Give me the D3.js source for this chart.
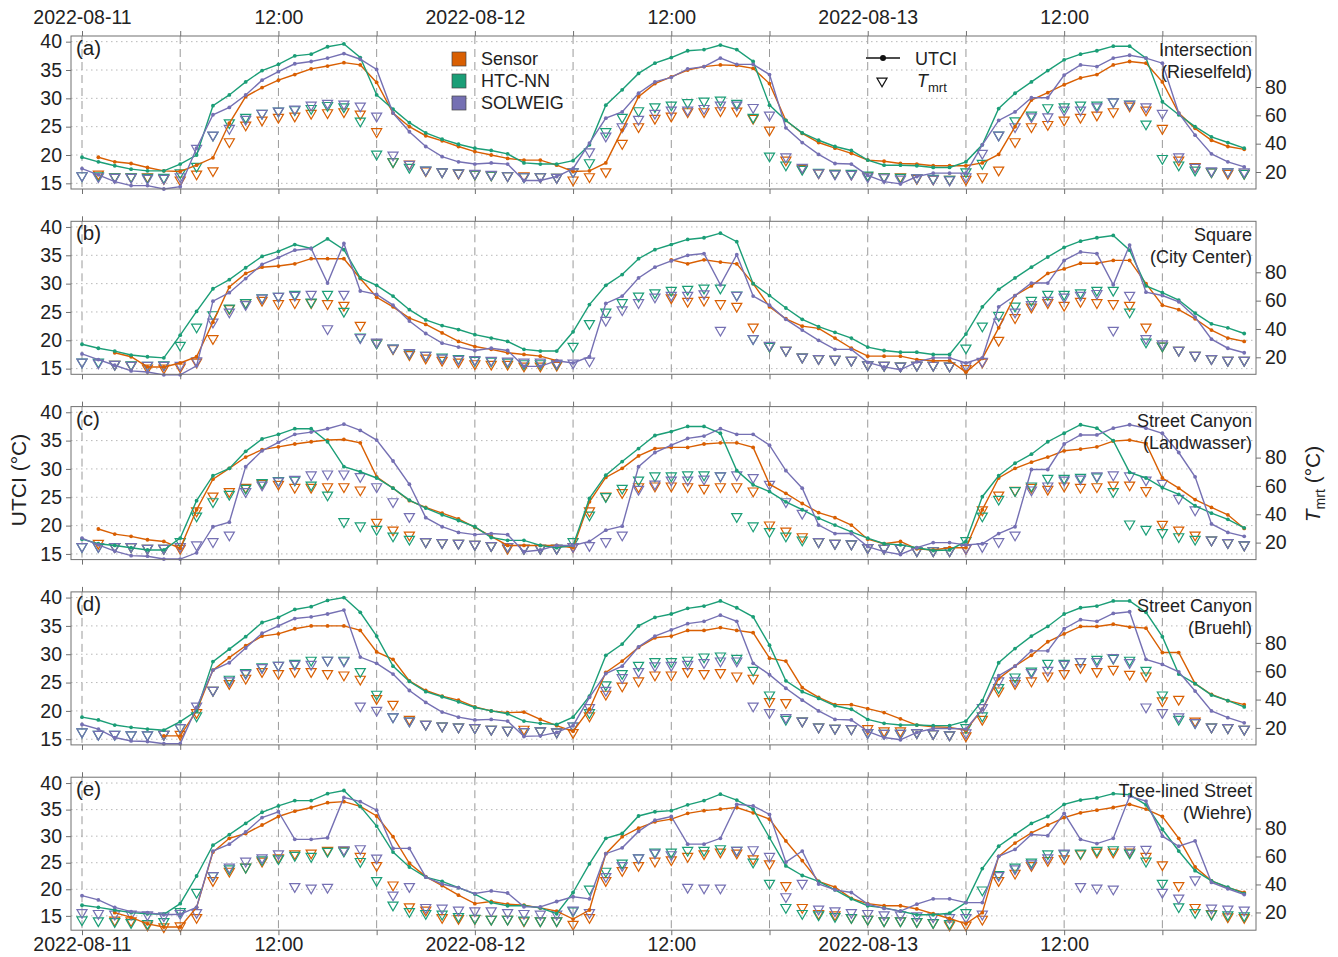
<!DOCTYPE html>
<html>
<head>
<meta charset="utf-8">
<script src="https://cdn.jsdelivr.net/npm/d3@7"></script>
<style>
  body { margin: 0; background: #fff; }
  svg { display: block; font-family: "Liberation Sans", Arial, sans-serif; }
</style>
</head>
<body>
<div id="chart"></div>
<script>
// hourly values, index = hours since 2022-08-11 00:00 (72 steps)

// (a) Intersection (Rieselfeld)
const utciSensorA = [
  null,19.6,18.8,18.5,17.8,17.2,17.1,18.2,19.5,25.6,30.3,31.9,
  33.2,34.2,35.2,35.7,36.3,35.9,32.8,27.4,25,23.4,22.5,21.5,
  20.6,20,19.4,19.1,19.1,18.2,17.1,17.2,18.6,24.4,30.3,32.6,
  33.8,35,35.6,35.9,35.8,35.3,32.6,26.1,23.8,22.2,21.2,20.3,
  19.1,18.9,18.5,18.4,18.1,18.1,18.1,18.6,20.1,25,29.7,31,
  32.4,33.6,34.2,35.9,36.5,36.2,32.9,27.4,24.7,22.6,21.5,21];
const utciHtcA = [
  19.6,18.8,18.1,17.5,17.2,17.2,18.4,20,28.7,30.6,32.9,34.9,
  36,37.5,37.8,39.1,39.6,37.2,30.6,28.1,25.7,23.9,22.8,21.9,
  21.2,20.8,20.2,18.6,18.4,18.4,19,21.8,28.8,31.5,34.4,36.2,
  37.2,38.4,38.6,39.4,38.6,36.5,28.8,26.1,23.9,22.6,21.5,20.8,
  19.1,18.2,18.2,18.1,17.8,17.8,18.8,21.8,28.2,30.9,32.9,34.9,
  36.8,37.8,38.4,39.2,39.2,37.1,29.4,27.1,25,23.2,22.2,21.2];
const utciSolA = [
  17.6,16.5,15.3,14.6,14.6,14,14.4,21.2,27.1,28.4,30.6,33.2,
  34.7,36.1,36.5,37.1,37.9,36.9,35.1,27.4,24.1,21.5,19.7,18.8,
  18.4,18.6,18.4,15.5,15.5,16.2,17.6,22.1,26.5,27.6,30.9,32.9,
  33.7,35.2,35.6,37.1,36,36,34.2,24.8,22.2,20.1,18.5,18.4,
  16.4,15.3,14.9,16.2,16.8,16.8,16.8,21.8,26.1,27.6,30.1,30.1,
  34.1,35.9,35.6,37.1,37.6,37.1,36.2,27.4,23.5,20.2,18.8,17.9];
const tmrtSensorA = [
  null,18.6,16.7,16.7,16.7,15.5,14.4,18.6,20.9,41.4,53.2,56.7,
  58.6,59.5,61.4,61.9,62.6,60.9,48.5,27.3,25.6,20.9,20.2,19.1,
  18.6,17.9,17.4,17.4,16.7,16.2,14.4,16.7,20.2,40.2,52,57.9,
  59.5,62.6,62.6,63.3,63.1,57.9,49.6,28.5,22.6,19.5,19.1,18.6,
  17.4,16.7,16.7,15.5,15.1,14.8,14.8,16.7,21.4,41.4,52,53.6,
  56.7,58.6,60.2,62.6,66.6,63.8,50.8,28.5,23.8,20.2,19.1,19.1];
const tmrtHtcA = [
  17.4,17.4,16.7,16.7,16.2,16.2,19.5,24,46,54.8,58.6,61.4,
  63,64,64.9,67,66,56,32.7,27.3,23.3,21.4,20.2,19.5,
  18.6,17.9,17.4,16.7,16.7,16.2,20.2,26.6,48.5,58.6,63.3,66.1,
  67.3,69,70.1,70.8,68.5,58.6,31.3,25,21.9,19.8,19.1,19.1,
  17.9,16.7,16.2,16,15.5,14.8,20.2,26.1,46.1,56.2,60.2,65.4,
  66.1,67.3,67.3,69.6,68,53.9,29.6,25,21.4,20.2,20.2,19.1];
const tmrtSolA = [
  17.4,16.7,16.2,16.2,15.5,15.5,16.7,36.7,46.1,50.8,57.2,61.4,
  63.1,64.5,67.3,68.5,68,66.6,59.5,32,25.4,21.4,20.2,19.5,
  19.1,18.4,17.4,16.7,16.7,16.2,20.2,34.3,45.4,52,57.2,61.4,
  63.8,63.8,64.9,67.3,67.3,65.6,60.2,30.8,23.3,19.5,18.6,18.4,
  16.7,16,15.1,16,15.1,14.4,16.7,33.2,46.1,52,59,59,
  63.8,63.8,66.1,69.6,67.8,66.1,61.4,30.8,23.3,20.9,20.2,20.2];

// (b) Square (City Center)
const utciSensorB = [
  null,null,17.8,17.1,15.3,15.3,16,17.1,23.2,29.4,31.8,32.9,
  33.1,33.5,34.4,34.4,34.4,30.9,27.6,25.9,23.9,22.8,21.3,19.8,
  18.9,18.4,17.8,17.5,17.2,16.4,null,null,null,null,null,null,
  34.2,33.5,34.2,33.8,33.5,30,25.9,23.8,22.5,22.1,20.4,18.6,
  17.2,17.2,17.2,16.6,16.4,16.4,14.4,16.8,22.2,27.9,29.6,31.8,
  32.6,33.6,33.6,34.1,34.1,30,26.2,25.4,23.8,21.8,20.4,19.8];
const utciHtcB = [
  19.3,18.6,18.1,17.4,17.1,16.9,20.9,25.1,29.1,30.7,32.8,34.8,
  35.7,36.9,36.2,37.9,36,31,29.7,27.8,25.4,23.6,22.6,21.9,
  21,20.4,19.8,18.4,18.1,18.1,21.5,26.3,29.7,31.6,34.4,36,
  36.9,37.8,38.1,38.9,37.4,30,27.9,25.7,23.7,22.4,21.4,20.4,
  18.8,18.2,17.9,17.9,17.5,17.5,21.1,25.9,29,31,32.9,34.7,
  36.4,37.5,38.1,38.5,35.9,29.6,28.4,27.1,24.8,22.9,22.2,21.2];
const utciSolB = [
  17.6,16.6,15.6,14.6,14.4,13.9,13.9,15.5,26.9,28.4,30.9,33.4,
  34.6,35.9,36.2,30.1,37.1,28.7,28.1,26.2,23.4,21.2,19.5,18.8,
  18.2,18.6,18.2,15.4,15.4,16.4,16,17.1,26.5,27.8,31,32.9,
  34,35,35.3,29.8,35.1,27.8,26.2,23.7,21.8,20,18.4,18.4,
  16.1,15.3,14.8,16.2,16.9,16.9,16,16.9,25.9,27.9,30.1,30.1,
  34.1,35.6,35.3,29.8,36.8,28.5,27.9,26.8,24.1,20.2,18.6,17.8];
const tmrtSensorB = [
  null,null,15.1,14.4,12.5,12.5,13.2,16.7,33.2,54.4,58.6,60.2,
  57.9,58.6,58.6,57.9,56.7,42.6,30.3,26.1,21.9,19.5,17.9,16.7,
  15.5,15.1,15.1,13.9,13.9,14.4,null,null,null,null,null,null,
  62,59.5,60.2,57.9,56,41.4,28,25,20.2,19.1,18.6,17.9,
  14.8,14.4,13.9,14.4,14.4,13.9,12,16.7,32,48,55.5,58.6,
  56.7,59.5,58.6,57.9,56.7,41.4,28,25,21.4,19.1,17.9,17.9];
const tmrtHtcB = [
  16.7,16.7,15.1,14.8,14.4,14.8,28.5,41.4,50.1,54.8,58.6,62.1,
  63.1,64.5,59,64.5,52.5,34.3,30.1,26.6,23,21.4,20.2,19.1,
  17.9,17.4,16.7,15.5,15.5,15.5,27.8,43.8,52,58.6,63.3,65.6,
  67.3,68,68.9,68.9,64,33.2,27.8,25,20.2,19.1,18.6,17.9,
  14.8,14.4,13.9,14.4,14.4,13.9,26.6,42.1,49.6,56.2,60.2,64.5,
  64.5,65.6,67.3,67.3,52,30.8,28,25,21.4,19.1,17.9,17.9];
const tmrtSolB = [
  16.7,16,15.1,14.4,14.4,14.4,14.4,17.5,44.9,52,57.2,61.9,
  63.1,63.8,64.5,40.2,64.5,33.9,30.8,26.6,23.3,21.4,19.5,18.6,
  18.4,17.9,17.4,16.7,16.7,16,16,17.4,46.1,53.6,58.6,62.6,
  63.8,63.8,64.9,39.1,63.8,33.2,28.5,25,20.2,19.1,18.6,17.9,
  14.8,14.4,13.9,14.4,14.4,13.9,14,17.2,44.9,52,57.2,60.2,
  62.6,63.8,65.1,39.1,63.8,33.2,29.6,25,21.4,19.1,17.9,17.9];

// (c) Street Canyon (Landwasser)
const utciSensorC = [
  null,19.4,18.5,18.1,17.5,17.2,16,22.8,28.2,30.1,32.1,33.4,
  33.9,34.4,34.8,35.1,35.2,34.6,28.6,26.6,24.4,23.2,22.2,21.2,
  19.7,18.1,16.5,16.5,16.5,16.5,16.1,24.2,28.5,30.1,32.3,33.6,
  33.8,33.8,34.4,34.6,34.6,33.8,27.3,25.7,23.9,22.3,21.4,20.1,
  17.6,16.8,17.2,15.9,15.7,16.1,16.1,22.8,28.4,30.1,31.2,32.1,
  33.2,33.5,33.9,34.9,35.1,34.5,28.4,26.6,24.6,23.2,21.9,19.5];
const utciHtcC = [
  17.6,16.8,16.5,16.1,15.7,15.7,17.8,24.4,28.8,30.1,33.1,35.3,
  36.1,37.1,37.1,34.8,30.4,29.5,28.4,26.6,24.5,23.1,21.9,20.9,
  19.8,17.9,17.4,17.4,16.5,16.1,16.5,24.8,28.9,31.3,33.6,35.9,
  36.6,37.5,37.5,36.3,29.7,27.2,26,24.2,22.8,21.3,20.1,18.9,
  17.8,16.8,16.6,16.1,15.6,15.7,17.2,25.1,28.8,31,32.6,34.8,
  36.3,37.8,37.2,35,29.4,28.4,26.7,25.5,23.5,22.2,21.1,19.6];
const utciSolC = [
  17.8,16.6,15.5,14.7,14.6,14.1,14.1,15.2,19.8,20.6,30.4,33.2,
  34.7,36.1,36.5,37.1,37.9,36.8,35.1,31.4,27.3,21.4,19.8,18.8,
  18.4,18.6,18.4,15.4,15.7,16.5,16.5,17.2,19.2,19.9,30.4,32.9,
  34.2,35.4,35.8,37.1,36.1,36.1,34.2,29.7,26.6,20.1,18.6,18.6,
  16.3,15.4,14.9,16.1,17,17,16.6,16.8,18.6,19.8,29.9,29.9,
  34.4,36,36,37.2,37.8,37.2,36.3,32.9,28.6,20.3,18.8,18.1];
const tmrtSensorC = [
  null,19.5,17.2,17.2,16,16,16,42.4,52.9,56,59,61.9,
  61.2,59,59,59.5,59.5,57.2,34.3,28.9,25.4,20.7,20,19.5,
  18.8,17.9,16,16,16,16,17.2,42.4,52.9,55.3,59.5,60,
  60,59.5,58.4,59.5,59.5,56.5,32.5,28.2,24.2,20.7,19.5,19.1,
  16.5,16,16,14.3,14.3,14.3,16,43.1,53.6,57,59,57.6,
  60,59,59.5,60.7,60.7,56.7,32.9,28.9,25.4,21.9,20,18.4];
const tmrtHtcC = [
  17.2,17.2,17.2,17.2,16,16,20.7,38.8,48.9,54.1,58.4,62.4,
  63.8,64.2,60.7,53.6,34.8,31.8,29.4,24.7,22.4,20.7,20,19.5,
  18.8,17.9,17.2,16,16,16,20.7,39.5,52.5,58.4,64.2,67.1,
  67.1,67.8,67.8,67.1,38.4,31.8,27.8,24.7,21.9,20.7,19.5,19.1,
  16.5,16,16,14.3,14.3,14.3,21.4,38.8,50.6,56.7,60,65.4,
  65.4,66.1,66.5,56,33.2,29.4,27.1,24.2,22.4,21.9,20,18.4];
const tmrtSolC = [
  17.2,17.2,17.2,17.2,16,16,17.2,18.4,20.7,25.4,56,60.7,
  63.5,64.7,67.8,68.5,68.5,66.6,59.5,48.9,38.4,20.7,20,19.5,
  18.8,17.9,17.2,16,16,16,17.2,17.9,20.7,25.4,57.6,61.4,
  64.2,64.2,64.9,67.1,67.8,65.9,61.2,48.9,40.7,20.7,19.5,19.1,
  16.5,16,16,14.3,14.3,14.3,16,17.2,20.7,25.4,57.2,60,
  64.2,64.9,67.1,67.8,67.1,64.2,61.9,51.3,43.1,21.9,20,18.4];

// (d) Street Canyon (Bruehl)
const utciSensorD = [
  null,null,null,null,null,15.6,15.6,20,27.2,29.4,31.5,33.2,
  33.6,34.5,35,35,35,34.2,30.4,29.1,25.3,23.6,22.6,21.9,
  20.7,20,19.7,19.8,18.5,17.4,16.4,20.3,26.8,28.8,31.2,32.9,
  33.2,34.2,34.2,34.7,34.2,33.8,29.3,28.8,24.1,22.4,21.1,21.1,
  20.4,19.7,18.6,17.5,17.2,17.1,16.6,20.3,25.7,27.9,29.8,32.2,
  33.6,34.9,34.9,35.3,34.8,34.6,30.3,30.3,24.8,22.9,21.8,21.1];
const utciHtcD = [
  18.9,18.4,17.5,17.1,16.8,16.6,18.1,20,28.7,30.9,33.1,35.6,
  36.5,37.9,38.4,39.5,40,37.4,33.2,27.9,25.2,23.4,22.5,21.6,
  20.6,20,19.5,18.2,17.8,17.6,18.9,22.6,29.8,31.8,35,36.5,
  37.1,38.1,38.5,39.4,38.2,36.6,31.6,25.3,23.4,22.2,20.9,20.3,
  18.5,17.8,17.5,17.5,17.4,17.4,18.2,21.8,28.5,31,33.2,34.9,
  37.1,38.2,38.5,39.4,39.4,37.4,33.1,26.5,24.8,22.8,21.8,20.7];
const utciSolD = [
  17.6,16.8,15.3,14.7,14.6,14.2,14.2,20.6,27.2,28.5,31.1,33.7,
  35,36.3,36.6,37.1,37.8,29.5,28.4,26.5,23.6,21.5,19.8,18.9,
  18.4,18.5,18.2,15.5,15.6,16.2,17.4,22.4,26.6,27.9,31.3,33.2,
  34.3,35.4,35.8,36.9,35.8,28.4,26.4,24,21.9,20,18.5,18.4,
  16.4,15.3,14.9,16.2,16.9,16.9,16.8,20.3,26.2,27.9,30.6,30.6,
  34.5,36.1,35.8,37.2,37.5,29.1,28.2,26.9,23.5,20,18.8,17.9];
const tmrtSensorD = [
  null,null,null,null,null,15.5,15.5,30.8,46.6,51.3,55.1,59.8,
  58.4,59.8,59.8,58.4,57.4,54.4,40.7,36.7,26.1,22.6,21.4,20.7,
  20.2,19.1,18.4,19.1,17.9,17.2,16.7,28.5,43.8,49.6,53.2,57.4,
  57.4,59.8,58.4,59.1,56.7,55.1,38.6,37.9,24.9,20.7,19.8,19.5,
  19.5,17.9,17.9,16.7,16,15.1,14.4,26.1,46.1,51.3,53.2,56.7,
  58.4,62.6,59.8,61.4,57.9,56.7,39.1,40.2,24.9,20.7,20.2,19.1];
const tmrtHtcD = [
  17.2,15.5,15.5,15.1,15.1,15.5,20.2,28.5,46.6,54.4,59.1,63.1,
  64.2,65.6,67.8,67.8,67.8,59.8,43.8,27.8,24.9,22.6,21.4,20.7,
  20.2,19.1,18.4,17.4,17.9,17.2,21.4,30.8,50.4,58.4,64.2,66.8,
  66.8,67.8,70.1,70.8,69.2,60.7,43.3,26.1,24.9,20.7,19.8,19.5,
  16.7,16.2,16.2,16.7,16,15.1,20.2,28.5,48.5,56,60.2,65.6,
  65.6,66.8,68.5,69.2,67.8,60.7,43.3,26.1,23.8,20.7,20.2,19.1];
const tmrtSolD = [
  17.2,15.5,15.5,15.1,15.1,15.5,20.2,35.5,46.6,53.2,58.4,62.6,
  64.2,64.9,64.9,67.8,67.3,35.5,32.5,27.8,24.9,22.6,21.4,20.7,
  20.2,19.1,18.4,17.4,17.9,17.2,21.4,34.4,46.6,55.5,59.8,63.8,
  64.2,64.9,66.1,67.3,67.3,35.5,30.8,27.3,24.9,20.7,19.8,19.5,
  16.7,16.2,16.2,16.7,16,15.1,16.5,34.4,53.2,53.2,59.1,60.7,
  64.9,66.8,66.8,69.6,66.1,34.8,30.8,27.8,23.8,20.7,20.2,19.1];

// (e) Tree-lined Street (Wiehre)
const utciSensorE = [
  null,null,15.6,14.7,13.5,12.9,12.9,16.6,27,29.6,30.5,32.1,
  33.7,34.7,35.4,36.3,36.5,35.6,33.8,29.9,24.9,22.4,20.7,18.9,
  17.3,17.7,17.2,17,16.5,15.9,14.4,16.1,26.7,29.9,31.5,32.7,
  33.2,34.3,34.8,35.1,35.4,34.4,33.2,29.1,25.4,21.5,20.4,18.3,
  17.3,16.9,16.9,16.3,15.4,14.5,13.5,15.6,26.2,28.7,30.6,32.1,
  33.5,34.4,34.9,35.4,36,35.1,33.7,29.6,24.2,21.6,20.3,19.4];
const utciHtcE = [
  17,16.6,16.1,15.6,15.4,15.3,17.3,22.5,28.3,30.3,32.4,34.5,
  35.7,36.7,36.7,38,38.6,35.6,31.9,27,24.2,22.3,21.5,20.3,
  19.1,17.5,16.9,16.9,16.5,15.4,19.4,24.8,29.6,30.5,33.8,34.6,
  34.8,35.9,36.7,37.9,36.8,35.1,29.7,24.4,22.6,21.5,19.9,18.2,
  16.9,16.5,15.9,15.2,15.2,15.5,17.5,23.9,28.1,30.3,32.4,33.7,
  36,36.8,37.2,38,37.8,35.9,31.3,27.2,23.5,21.6,20.4,19.2];
const utciSolE = [
  18.8,18,16.6,15.8,15.6,15.2,15.3,16.6,27.2,28.5,30.8,33.5,
  34.6,29.4,29.4,29.7,37.3,36.5,34.9,27.7,27.7,22.3,21,20.3,
  19.2,19.7,19.3,16.7,16.7,17.7,18.6,18.2,26.7,27.8,30.9,33,
  33.7,28.5,28.5,29.6,36,35.7,34.1,25.1,27.2,21,19.9,19.4,
  17.2,16.4,15.9,17.2,18.2,18.2,17.5,17.5,26.2,27.5,30.3,30.1,
  34.3,29.4,28.6,29.6,37.5,36.6,30,28.1,29.1,21.3,20.1,19];
const tmrtSensorE = [
  null,null,14.5,14,11.1,9.7,10.4,16.4,42.8,49.5,52.4,56.7,
  59.1,62,62.5,64.4,64.4,60.1,53.6,39.7,24.1,21.7,16.4,15.7,
  15.7,15.2,15.2,14,14,14,11.6,16.4,42.8,50,53.6,56.7,
  57.7,60.1,62,63.2,62.5,58.4,54.8,39.2,23.6,19.3,18.3,16.4,
  15.2,14,14,13.5,12.8,11.1,11.1,15.2,42.8,48.1,53.6,57.2,
  58.4,62,63.2,63.2,63.2,60.1,54.1,39.2,23.6,19.3,16.9,16.4];
const tmrtHtcE = [
  14.7,14,13.5,12.8,12.1,13.5,20.7,34.4,46.4,51.2,52.4,57.7,
  58.4,60.8,60.1,63.7,63.9,56.5,42.8,25.3,20.7,19.3,18.8,17.1,
  15.9,15.2,15.2,14.5,14,14,21.2,36.8,49.5,55.3,59.1,63.2,
  63.2,64.4,64.4,65.6,64.4,56,40.9,23.6,19.3,18.3,17.1,16.4,
  15.2,14,14,13.5,12.8,12.1,20,36.1,47.1,52.4,56,62,
  62,62.5,64.4,64.9,62.5,56.7,40.9,24.1,20,18.8,18.3,17.6];
const tmrtSolE = [
  20,19.3,18.8,18.8,18.3,17.6,19.3,20,46.4,52.4,56.7,59.1,
  62,38.5,37.5,38,64.9,65.6,58.9,32.5,38.5,23.6,23.1,21.7,
  21.2,21.2,20,19.3,18.8,18.8,21.7,20,45.7,53.6,59.1,62.5,
  61.3,38,37.5,37.5,64.4,64.9,60.1,31.3,40.9,22.4,21.2,20,
  19.3,18.3,18.3,17.6,16.9,16.4,16.4,18.8,46.4,51.2,54.8,59.1,
  62.5,38.5,37.5,36.8,64.9,65.1,34.4,30.3,43.3,23.1,22.4,21.7];

const panelLabels = ['(a)', '(b)', '(c)', '(d)', '(e)'];
const siteNames = [
  ['Intersection', '(Rieselfeld)'],
  ['Square', '(City Center)'],
  ['Street Canyon', '(Landwasser)'],
  ['Street Canyon', '(Bruehl)'],
  ['Tree-lined Street', '(Wiehre)']];
const seriesNames = ['Sensor', 'HTC-NN', 'SOLWEIG'];
const seriesColors = ['#D95F02', '#1B9E77', '#7570B3'];
const utciTicks = [15, 20, 25, 30, 35, 40];
const tmrtTicks = [20, 40, 60, 80];
const utciDomains = [[14, 41], [14, 41], [14, 41], [14, 41], [12.3, 41.1]];
const tmrtDomains = [[8, 116], [8, 116], [8, 116], [8, 116], [7.3, 116.7]];

const utciData = [
  [utciSensorA, utciHtcA, utciSolA],
  [utciSensorB, utciHtcB, utciSolB],
  [utciSensorC, utciHtcC, utciSolC],
  [utciSensorD, utciHtcD, utciSolD],
  [utciSensorE, utciHtcE, utciSolE]];
const tmrtData = [
  [tmrtSensorA, tmrtHtcA, tmrtSolA],
  [tmrtSensorB, tmrtHtcB, tmrtSolB],
  [tmrtSensorC, tmrtHtcC, tmrtSolC],
  [tmrtSensorD, tmrtHtcD, tmrtSolD],
  [tmrtSensorE, tmrtHtcE, tmrtSolE]];

// layout
const W = 1338, H = 957;
const left = 71, right = 1256;
const top0 = 36, step = 185.3, panelH = 153;
const fontSize = 18;      // legend, site names
const tickFont = 19.5;    // axis tick labels
const titleFont = 21;     // axis titles
const boxColor = '#707070';
const textColor = '#222';

const t0 = new Date(2022, 7, 11, 0).getTime();
const hourToDate = h => new Date(t0 + h * 3600e3);

const svg = d3.select('#chart').append('svg')
  .attr('width', W)
  .attr('height', H);

const x = d3.scaleTime()
  .domain([hourToDate(-0.672), hourToDate(71.72)])
  .range([left, right]);
const sixHours = d3.range(0, 72, 6).map(hourToDate);
const fmtDay = d3.timeFormat('%Y-%m-%d');
const timeLabel = d => d.getHours() === 0 ? fmtDay(d) : (d.getHours() === 12 ? '12:00' : '');

const tri = d3.symbol().type(d3.symbolTriangle).size(44);

function styleAxis(g, labels) {
  g.select('.domain').remove();
  g.attr('font-family', null).attr('font-size', null);
  g.selectAll('.tick line').attr('stroke', boxColor);
  g.selectAll('.tick text')
    .attr('fill', textColor)
    .attr('font-size', tickFont)
    .style('display', labels ? null : 'none');
}

utciData.forEach((series, i) => {
  const g = svg.append('g').attr('transform', `translate(0, ${top0 + i * step})`);
  const y = d3.scaleLinear().domain(utciDomains[i]).range([panelH, 0]);
  const yT = d3.scaleLinear().domain(tmrtDomains[i]).range([panelH, 0]);

  // grid
  g.append('g').selectAll('line').data(utciTicks).enter().append('line')
    .attr('x1', left).attr('x2', right)
    .attr('y1', d => y(d)).attr('y2', d => y(d))
    .attr('stroke', '#b8b8b8')
    .attr('stroke-width', 1)
    .attr('stroke-dasharray', '1.5,3.5');
  g.append('g').selectAll('line').data(sixHours).enter().append('line')
    .attr('x1', d => x(d)).attr('x2', d => x(d))
    .attr('y1', 0).attr('y2', panelH)
    .attr('stroke', '#9a9a9a')
    .attr('stroke-width', 1)
    .attr('stroke-dasharray', '8,5');

  // Tmrt triangles
  tmrtData[i].forEach((vals, s) => {
    g.append('g').selectAll('path')
      .data(vals.map((v, h) => ({ h, v })).filter(d => d.v !== null))
      .enter().append('path')
      .attr('d', tri)
      .attr('transform', d => `translate(${x(hourToDate(d.h))}, ${yT(d.v)}) rotate(180)`)
      .attr('fill', 'none')
      .attr('stroke', seriesColors[s])
      .attr('stroke-width', 1.2);
  });

  // UTCI lines with small dots
  series.forEach((vals, s) => {
    const pts = vals.map((v, h) => ({ h, v }));
    const line = d3.line()
      .defined(d => d.v !== null)
      .x(d => x(hourToDate(d.h)))
      .y(d => y(d.v));
    g.append('path')
      .datum(pts)
      .attr('d', line)
      .attr('fill', 'none')
      .attr('stroke', seriesColors[s])
      .attr('stroke-width', 1.4);
    g.append('g').selectAll('circle')
      .data(pts.filter(d => d.v !== null))
      .enter().append('circle')
      .attr('cx', d => x(hourToDate(d.h)))
      .attr('cy', d => y(d.v))
      .attr('r', 1.9)
      .attr('fill', seriesColors[s]);
  });

  // box
  g.append('rect')
    .attr('x', left).attr('y', 0)
    .attr('width', right - left).attr('height', panelH)
    .attr('fill', 'none')
    .attr('stroke', boxColor);

  // axes
  g.append('g')
    .attr('transform', `translate(${left}, 0)`)
    .call(d3.axisLeft(y).tickValues(utciTicks).tickSize(5).tickPadding(4))
    .call(a => styleAxis(a, true));
  g.append('g')
    .attr('transform', `translate(${right}, 0)`)
    .call(d3.axisRight(yT).tickValues(tmrtTicks).tickSize(5).tickPadding(4))
    .call(a => styleAxis(a, true));
  g.append('g')
    .call(d3.axisTop(x).tickValues(sixHours).tickFormat(timeLabel).tickSize(5).tickPadding(7))
    .call(a => styleAxis(a, i === 0));
  g.append('g')
    .attr('transform', `translate(0, ${panelH})`)
    .call(d3.axisBottom(x).tickValues(sixHours).tickFormat(timeLabel).tickSize(5).tickPadding(2))
    .call(a => styleAxis(a, i === 4));

  // labels
  g.append('text')
    .attr('x', left + 5).attr('y', 19)
    .attr('font-size', 20.5).attr('fill', textColor)
    .text(panelLabels[i]);
  siteNames[i].forEach((s, k) => {
    g.append('text')
      .attr('x', right - 4).attr('y', 20 + k * 22)
      .attr('text-anchor', 'end')
      .attr('font-size', fontSize).attr('fill', textColor)
      .text(s);
  });
});

// axis titles
svg.append('text')
  .attr('transform', 'translate(26, 480) rotate(-90)')
  .attr('text-anchor', 'middle')
  .attr('font-size', titleFont).attr('fill', textColor)
  .text('UTCI (°C)');
const tTitle = svg.append('text')
  .attr('transform', 'translate(1320, 484) rotate(-90)')
  .attr('text-anchor', 'middle')
  .attr('font-size', titleFont).attr('fill', textColor);
tTitle.append('tspan').attr('font-style', 'italic').text('T');
tTitle.append('tspan').attr('font-size', 14).attr('dy', 5).text('mrt');
tTitle.append('tspan').attr('dy', -5).text(' (°C)');

// legend: series
const leg = svg.append('g');
seriesNames.forEach((name, s) => {
  leg.append('rect')
    .attr('x', 452).attr('y', 52 + s * 22)
    .attr('width', 14).attr('height', 14)
    .attr('fill', seriesColors[s])
    .attr('stroke', '#444').attr('stroke-width', 0.7);
  leg.append('text')
    .attr('x', 481).attr('y', 65 + s * 22)
    .attr('font-size', fontSize).attr('fill', textColor)
    .text(name);
});

// legend: marker types
leg.append('line')
  .attr('x1', 866).attr('x2', 900).attr('y1', 58).attr('y2', 58)
  .attr('stroke', '#111').attr('stroke-width', 1.4);
leg.append('circle').attr('cx', 883).attr('cy', 58).attr('r', 3).attr('fill', '#111');
leg.append('text')
  .attr('x', 915).attr('y', 65)
  .attr('font-size', fontSize).attr('fill', textColor)
  .text('UTCI');
leg.append('path')
  .attr('d', tri)
  .attr('transform', 'translate(882, 81) rotate(180)')
  .attr('fill', 'none').attr('stroke', '#111').attr('stroke-width', 1.2);
const legT = leg.append('text')
  .attr('x', 917).attr('y', 87)
  .attr('font-size', fontSize).attr('fill', textColor);
legT.append('tspan').attr('font-style', 'italic').text('T');
legT.append('tspan').attr('font-size', 13).attr('dy', 5).text('mrt');
</script>
</body>
</html>
